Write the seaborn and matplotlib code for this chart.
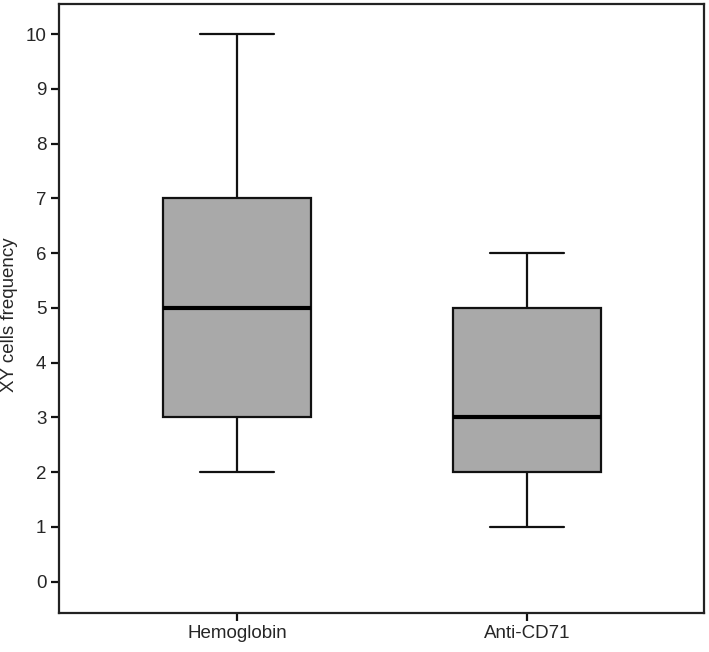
import pandas as pd
import seaborn as sns
import matplotlib.pyplot as plt

# Five-number summaries (min, Q1, median, Q3, max)
groups = ['Hemoglobin', 'Anti-CD71']
hemoglobin = [2, 3, 5, 7, 10]
anti_cd71 = [1, 2, 3, 5, 6]
y_ticks = list(range(0, 11))

df = pd.DataFrame({
    'group': [groups[0]] * len(hemoglobin) + [groups[1]] * len(anti_cd71),
    'value': hemoglobin + anti_cd71,
})

sns.set_style('white')
plt.rcParams['font.family'] = ['Liberation Sans', 'DejaVu Sans']

fig = plt.figure(figsize=(7.09, 6.52), dpi=100)
ax = fig.add_axes([0.083, 0.06, 0.91, 0.934])

sns.boxplot(
    data=df, x='group', y='value', order=groups,
    color='#a9a9a9', saturation=1, width=0.51, whis=1.5,
    linecolor='#111111', linewidth=1.6,
    medianprops={'color': 'black', 'linewidth': 3},
    ax=ax,
)

ax.set_xlim(-0.614, 1.61)
ax.set_ylim(-0.57, 10.55)
ax.set_yticks(y_ticks)
ax.set_xlabel('')
ax.set_ylabel('XY cells frequency', fontsize=13.5)
ax.yaxis.set_label_coords(-0.063, 0.49)
ax.tick_params(axis='both', direction='out', length=6, width=1.6,
               color='#111111', labelsize=13.5, left=True, bottom=True, pad=3)
for s in ax.spines.values():
    s.set_linewidth(1.6)
    s.set_color('#222222')

fig.savefig('out.png', dpi=100)
